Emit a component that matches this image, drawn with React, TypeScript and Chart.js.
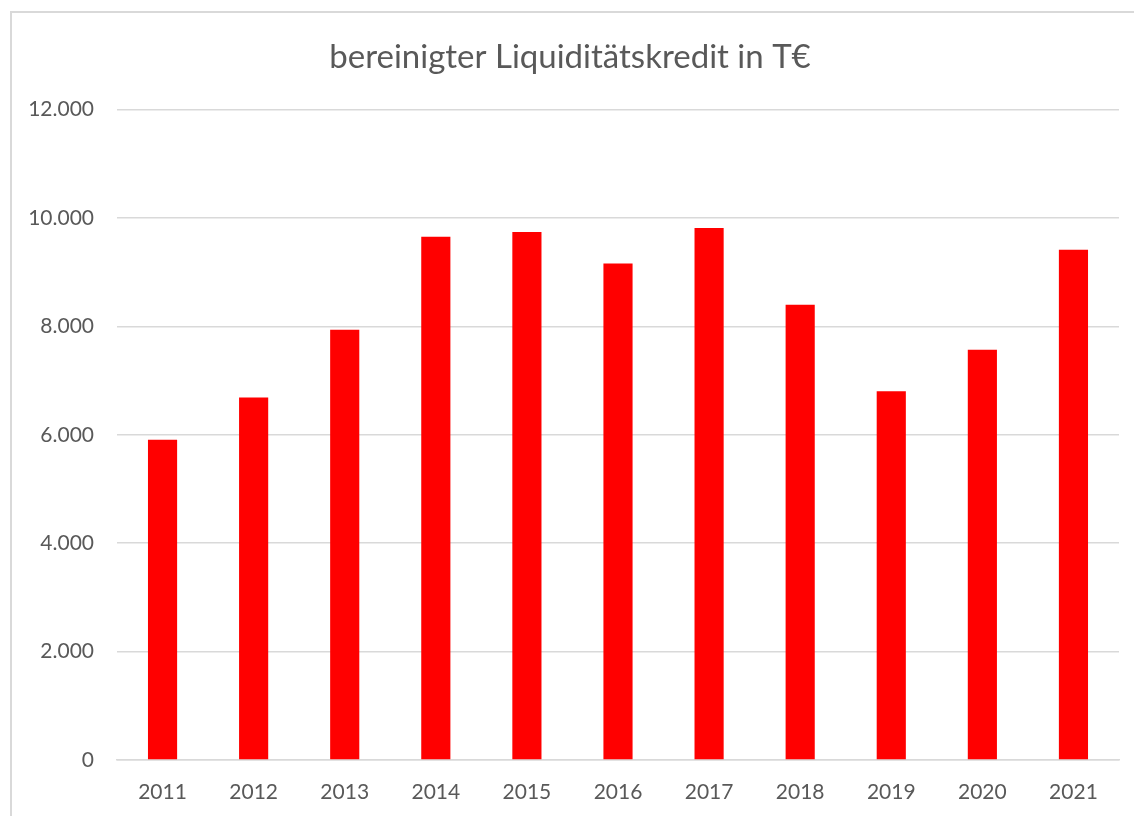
import React, { useEffect, useRef } from "react";
import { Chart, registerables } from "chart.js";

Chart.register(...registerables);

const TITLE = "bereinigter Liquiditätskredit in T€";
const categories = ["2011", "2012", "2013", "2014", "2015", "2016", "2017", "2018", "2019", "2020", "2021"];
const values = [5910, 6690, 7940, 9655, 9740, 9160, 9815, 8400, 6805, 7570, 9415];
const yTicks = [0, 2000, 4000, 6000, 8000, 10000, 12000];

const TEXT = "#595959";
const GRID = "#d9d9d9";
const FONT = "Lato, 'Open Sans', sans-serif";

function fmt(v: number): string {
  const s = Math.round(v).toString();
  return s.replace(/\B(?=(\d{3})+(?!\d))/g, ".");
}

export default function App() {
  const ref = useRef<HTMLCanvasElement | null>(null);
  useEffect(() => {
    if (!ref.current) return;
    const chart = new Chart(ref.current, {
      type: "bar",
      data: {
        labels: categories,
        datasets: [
          {
            label: TITLE,
            data: values,
            backgroundColor: "#ff0000",
            borderWidth: 0,
            categoryPercentage: 1,
            barPercentage: 0.32,
          },
        ],
      },
      options: {
        responsive: false,
        animation: false,
        layout: { padding: { left: 21, right: 15, top: 0, bottom: 0 } },
        plugins: {
          legend: { display: false },
          tooltip: { enabled: false },
          title: {
            display: true,
            text: TITLE,
            color: TEXT,
            font: { family: FONT, size: 33, weight: "normal" },
            padding: { top: 38, bottom: 32 },
          },
        },
        scales: {
          x: {
            grid: { display: false, drawTicks: false },
            border: { color: GRID, width: 1.5 },
            ticks: { color: TEXT, font: { family: FONT, size: 21 }, padding: 20 },
            afterFit: (scale: any) => {
              scale.height = 56;
            },
          },
          y: {
            min: 0,
            max: 12000,
            afterBuildTicks: (scale: any) => {
              scale.ticks = yTicks.map((v) => ({ value: v }));
            },
            grid: { color: GRID, lineWidth: 1.5, drawTicks: false },
            border: { display: false },
            ticks: {
              color: TEXT,
              font: { family: FONT, size: 21 },
              padding: 23,
              callback: (v: any) => fmt(Number(v)),
            },
            afterFit: (scale: any) => {
              scale.width = 96;
            },
          },
        },
      },
    });
    return () => chart.destroy();
  }, []);

  return (
    <div style={{ position: "absolute", left: 0, top: 0, width: 1134, height: 816, background: "#fff", overflow: "hidden" }}>
      <div
        style={{
          position: "absolute",
          left: 10,
          top: 11,
          width: 1200,
          height: 900,
          borderLeft: `2px solid ${GRID}`,
          borderTop: `2px solid ${GRID}`,
          boxSizing: "border-box",
        }}
      />
      <canvas ref={ref} width={1134} height={816} style={{ position: "absolute", left: 0, top: 0 }} />
    </div>
  );
}
